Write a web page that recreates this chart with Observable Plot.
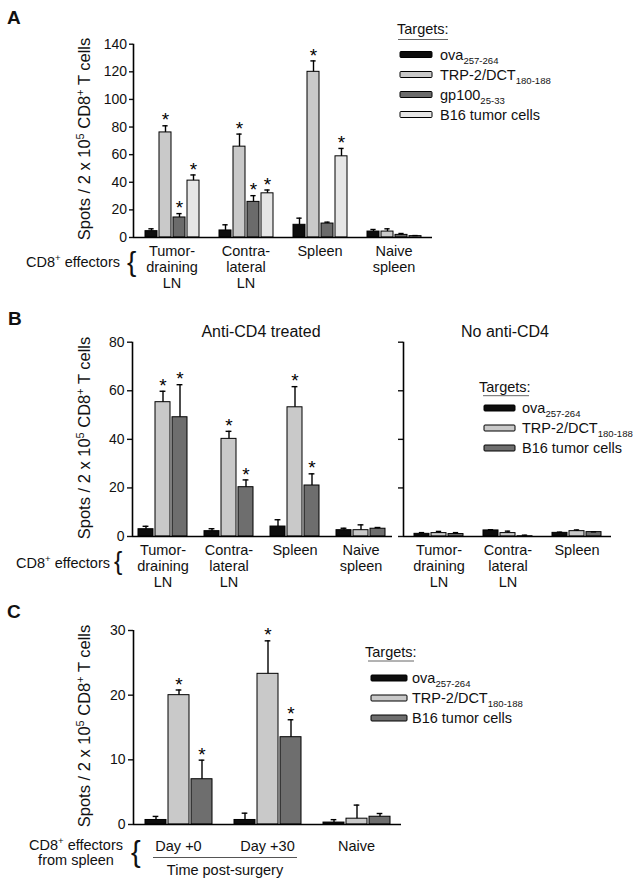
<!DOCTYPE html>
<html><head><meta charset="utf-8">
<script src="https://cdn.jsdelivr.net/npm/d3@7"></script>
<script src="https://cdn.jsdelivr.net/npm/@observablehq/plot@0.6"></script>
<style>
body{margin:0;background:#fff;}
#fig{position:relative;width:640px;height:883px;overflow:hidden;background:#fff;}
</style></head><body><div id="fig"></div>
<script>
// ---------- DATA ----------
// Panel A
const targetsA = ["ova", "TRP-2/DCT", "gp100", "B16 tumor cells"];
const targetSubsA = ["257-264", "180-188", "25-33", ""];
const colorsA = ["#0d0d0d", "#c9c9c9", "#6b6b6b", "#e6e6e6"];
const groupsA = ["Tumor-\ndraining\nLN", "Contra-\nlateral\nLN", "Spleen", "Naive\nspleen"];
const meanA = [[4.6, 76.1, 14.5, 41.2], [5.1, 65.8, 25.8, 32.0], [9.2, 120, 10.1, 58.8], [4.3, 4.3, 1.9, 1.0]];
const errA = [[1.7, 4.8, 2.8, 4.1], [4.1, 9.1, 4.5, 2.4], [4.8, 7.9, 1.0, 5.7], [1.5, 2.0, 1.0, 0.4]];
const sigA = [[0, 1, 1, 1], [0, 1, 1, 1], [0, 1, 0, 1], [0, 0, 0, 0]];
const ticksA = [0, 20, 40, 60, 80, 100, 120, 140];

// Panels B and C targets
const targetsBC = ["ova", "TRP-2/DCT", "B16 tumor cells"];
const targetSubsBC = ["257-264", "180-188", ""];
const colorsBC = ["#0d0d0d", "#c9c9c9", "#6e6e6e"];

// Panel B, anti-CD4 treated
const groupsB1 = ["Tumor-\ndraining\nLN", "Contra-\nlateral\nLN", "Spleen", "Naive\nspleen"];
const meanB1 = [[3.0, 55.3, 49.1], [2.2, 40.2, 20.3], [4.1, 53.2, 21.0], [2.6, 2.6, 3.2]];
const errB1 = [[1.2, 4.5, 13.4], [1.0, 3.1, 3.0], [2.8, 8.5, 4.8], [0.8, 2.2, 0.5]];
const sigB1 = [[0, 1, 1], [0, 1, 1], [0, 1, 1], [0, 0, 0]];
// Panel B, no anti-CD4
const groupsB2 = ["Tumor-\ndraining\nLN", "Contra-\nlateral\nLN", "Spleen"];
const meanB2 = [[1.1, 1.4, 1.0], [2.5, 1.4, 0.1], [1.5, 2.2, 1.8]];
const errB2 = [[0.5, 0.7, 0.6], [0.3, 0.8, 0.45], [0.3, 0.5, 0.1]];
const ticksB = [0, 20, 40, 60, 80];

// Panel C
const groupsC = ["Day +0", "Day +30", "Naive"];
const meanC = [[0.7, 20.0, 7.0], [0.7, 23.3, 13.5], [0.3, 0.9, 1.2]];
const errC = [[0.55, 0.8, 2.95], [1.05, 5.1, 2.7], [0.45, 2.1, 0.5]];
const sigC = [[0, 1, 1], [0, 1, 1], [0, 0, 0]];
const ticksC = [0, 10, 20, 30];

// ---------- DRAWING ----------
const FONT = '"Liberation Sans", Arial, Helvetica, sans-serif';
const fig = document.getElementById("fig");

function rowsOf(groups, targets, mean, err, sig) {
  const rows = [];
  groups.forEach((g, gi) => targets.forEach((t, ti) => rows.push({
    group: g, target: t, value: mean[gi][ti], hi: mean[gi][ti] + err[gi][ti],
    sig: sig ? sig[gi][ti] : 0
  })));
  return rows;
}

function panel(cfg) {
  const {top, height, left, right, y0, yTop, yMax, ticks, showTickLabels, groups, targets, colors,
         mean, err, sig, bw, step, labelPad, lineHeight, tickSize, tickPadding} = cfg;
  const marginTop = yTop - top, marginBottom = top + height - y0;
  const marginLeft = left, marginRight = 640 - right;
  const W = right - left, n = groups.length;
  const pIn = 1 - bw / step;
  const pOut = Math.max(0, (W / step - n + pIn) / 2);
  const rows = rowsOf(groups, targets, mean, err, sig);
  const barW = bw / targets.length;
  const capInset = Math.max(0, (barW - 6) / 2);
  const common = {
    width: 640, height, marginTop, marginBottom, marginLeft, marginRight,
    style: {background: "transparent", fontFamily: FONT, fontSize: "14.5px", color: "#111", overflow: "visible"}
  };
  const bars = Plot.plot({
    ...common,
    fx: {domain: groups, paddingInner: pIn, paddingOuter: pOut, label: null},
    x: {domain: targets, padding: 0, axis: null},
    y: {domain: [0, yMax], axis: null},
    color: {domain: targets, range: colors},
    marks: [
      Plot.barY(rows, {fx: "group", x: "target", y: "value", fill: "target", stroke: "#000", strokeWidth: 1, insetLeft: 1, insetRight: 1}),
      Plot.ruleX(rows, {fx: "group", x: "target", y1: "value", y2: "hi", stroke: "#000", strokeWidth: 1.4}),
      Plot.tickY(rows, {fx: "group", x: "target", y: "hi", stroke: "#000", strokeWidth: 1.4, insetLeft: capInset, insetRight: capInset}),
      Plot.text(rows.filter(d => d.sig), {fx: "group", x: "target", y: "hi", text: () => "*", fontSize: 19, dy: -5.5, fill: "#000"}),
      Plot.axisFx({anchor: "bottom", tickSize: 0, tickPadding: labelPad, fontSize: 14.5, lineHeight, label: null})
    ]
  });
  const axes = Plot.plot({
    ...common,
    x: {domain: [0, 1], axis: null},
    y: {domain: [0, yMax], axis: null},
    marks: [
      Plot.axisY({ticks, tickSize, tickPadding, fontSize: 14, strokeWidth: 1.4, label: null,
                  tickFormat: showTickLabels ? (d => String(d)) : (() => "")}),
      Plot.ruleY([0], {stroke: "#000", strokeWidth: 1.6}),
      Plot.ruleX([0], {stroke: "#000", strokeWidth: 1.6})
    ]
  });
  for (const svg of [bars, axes]) {
    svg.style.position = "absolute";
    svg.style.left = "0px";
    svg.style.top = top + "px";
    svg.style.maxWidth = "none";
    fig.appendChild(svg);
  }
}

// Panel A
panel({top: 0, height: 300, left: 133, right: 432, y0: 237, yTop: 43.7, yMax: 140, ticks: ticksA, showTickLabels: true,
       groups: groupsA, targets: targetsA, colors: colorsA, mean: meanA, err: errA, sig: sigA,
       bw: 59, step: 74.6, labelPad: 7.7, lineHeight: 1.08, tickSize: 4, tickPadding: 2.5});
// Panel B left
panel({top: 300, height: 300, left: 132, right: 392, y0: 536, yTop: 341.7, yMax: 80, ticks: ticksB, showTickLabels: true,
       groups: groupsB1, targets: targetsBC, colors: colorsBC, mean: meanB1, err: errB1, sig: sigB1,
       bw: 51.5, step: 66.5, labelPad: 6.7, lineHeight: 1.12, tickSize: 5, tickPadding: 3});
// Panel B right
panel({top: 300, height: 300, left: 403, right: 611, y0: 536, yTop: 341.7, yMax: 80, ticks: ticksB, showTickLabels: false,
       groups: groupsB2, targets: targetsBC, colors: colorsBC, mean: meanB2, err: errB2, sig: null,
       bw: 53, step: 69.5, labelPad: 6.7, lineHeight: 1.12, tickSize: 5, tickPadding: 3});
// Panel C
panel({top: 600, height: 283, left: 133, right: 401, y0: 824, yTop: 630, yMax: 30, ticks: ticksC, showTickLabels: true,
       groups: groupsC, targets: targetsBC, colors: colorsBC, mean: meanC, err: errC, sig: sigC,
       bw: 70, step: 89.3, labelPad: 14.7, lineHeight: 1.1, tickSize: 5, tickPadding: 3});

// ---------- ANNOTATIONS ----------
const ov = d3.select(fig).append("svg")
  .attr("width", 640).attr("height", 883)
  .style("position", "absolute").style("left", "0px").style("top", "0px")
  .style("font-family", FONT).style("pointer-events", "none");

function rich(x, y, parts, {size = 14.5, anchor = "start", weight = null, rotate = null, fill = "#111"} = {}) {
  const t = ov.append("text").attr("x", x).attr("y", y).attr("font-size", size)
    .attr("text-anchor", anchor).attr("fill", fill);
  if (weight) t.attr("font-weight", weight);
  if (rotate) t.attr("transform", `rotate(${rotate},${x},${y})`);
  let shift = 0;
  for (const p of parts) {
    const [s, kind] = Array.isArray(p) ? p : [p, null];
    const target = kind === "sup" ? -0.38 * size : kind === "sub" ? 0.3 * size : 0;
    const ts = t.append("tspan").text(s).attr("dy", target - shift);
    if (kind) ts.attr("font-size", size * 0.66);
    shift = target;
  }
  return t;
}

const yTitle = ["Spots / 2 x 10", ["5", "sup"], " CD8", ["+", "sup"], " T cells"];
const effectors = ["CD8", ["+", "sup"], " effectors"];

// Panel letters
rich(7, 24, ["A"], {size: 19, weight: "bold"});
rich(8, 325, ["B"], {size: 19, weight: "bold"});
rich(7, 618, ["C"], {size: 19, weight: "bold"});

// Y titles
rich(90, 139, yTitle, {size: 16.5, anchor: "middle", rotate: -90});
rich(90, 438, yTitle, {size: 16.5, anchor: "middle", rotate: -90});
rich(90, 726, yTitle, {size: 16.5, anchor: "middle", rotate: -90});

// Effectors labels and braces
rich(120, 267, effectors, {anchor: "end"});
rich(127, 271, ["{"], {size: 28});
rich(110, 568, effectors, {anchor: "end"});
rich(114, 570, ["{"], {size: 25});
rich(76, 850, effectors, {anchor: "middle"});
rich(76, 865, ["from spleen"], {anchor: "middle"});
rich(131, 862, ["{"], {size: 29});

// Panel C x grouping
ov.append("line").attr("x1", 153).attr("x2", 297).attr("y1", 857.5).attr("y2", 857.5)
  .attr("stroke", "#555").attr("stroke-width", 1);
rich(225, 875, ["Time post-surgery"], {anchor: "middle"});

// Panel B titles
rich(261, 337, ["Anti-CD4 treated"], {size: 16, anchor: "middle"});
rich(505, 337, ["No anti-CD4"], {size: 16, anchor: "middle"});

// Legends
function legend({titleX, titleY, ulX1, ulX2, ulY, swX, swW, textX, baselines, labels, subs, colors}) {
  rich(titleX, titleY, ["Targets:"]);
  ov.append("line").attr("x1", ulX1).attr("x2", ulX2).attr("y1", ulY).attr("y2", ulY)
    .attr("stroke", "#666").attr("stroke-width", 1);
  labels.forEach((l, i) => {
    ov.append("rect").attr("x", swX).attr("y", baselines[i] - 8).attr("width", swW).attr("height", 6)
      .attr("fill", colors[i]).attr("stroke", "#000").attr("stroke-width", 1).attr("rx", 1);
    rich(textX, baselines[i], subs[i] ? [l, [subs[i], "sub"]] : [l]);
  });
}
legend({titleX: 397, titleY: 33.5, ulX1: 398, ulX2: 448, ulY: 39.5, swX: 400, swW: 32, textX: 440,
        baselines: [59.5, 79.5, 99.5, 119.5], labels: targetsA, subs: targetSubsA, colors: colorsA});
legend({titleX: 479, titleY: 391.7, ulX1: 483, ulX2: 529, ulY: 395.7, swX: 484, swW: 31, textX: 522,
        baselines: [413, 433, 453], labels: targetsBC, subs: targetSubsBC, colors: colorsBC});
legend({titleX: 365, titleY: 656.7, ulX1: 368, ulX2: 414, ulY: 661, swX: 371, swW: 36, textX: 412,
        baselines: [683, 703, 723], labels: targetsBC, subs: targetSubsBC, colors: colorsBC});
</script>
</body></html>
